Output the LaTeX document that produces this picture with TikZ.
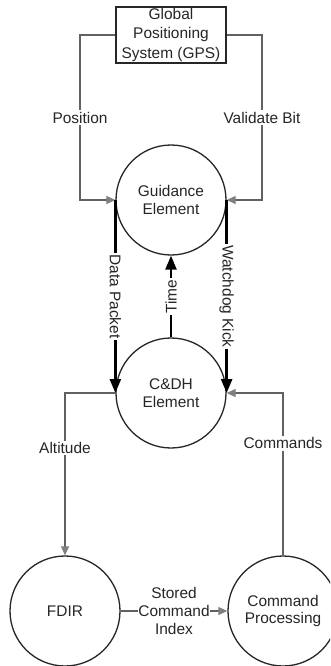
\documentclass[tikz,border=0pt]{standalone}
\usepackage{fontspec}
\setmainfont{Liberation Sans}
\usetikzlibrary{arrows.meta}
\begin{document}
\begin{tikzpicture}[x=1bp,y=-1bp,
  every node/.style={font=\fontsize{15.5}{18}\selectfont, text=black!85},
  proc/.style={circle, draw=black!85, line width=1.3bp, minimum size=110bp,
    inner sep=0pt, align=center},
  store/.style={rectangle, draw=black!85, line width=1.4bp, minimum width=110bp,
    minimum height=56bp, inner sep=0pt, align=center,
    font=\fontsize{15.5}{19.5}\selectfont},
  flow/.style={draw=black!62, line width=1.1bp,
    -{Triangle[length=9bp,width=8bp,color=black!50]}},
  bigflow/.style={draw=black, line width=2.4bp,
    -{Triangle[length=14bp,width=11bp]}},
  lbl/.style={fill=white, inner sep=1.5bp}]
  \clip (0,0) rectangle (330,666);
  \fill[white] (0,0) rectangle (330,666);

  % processes and the external source
  \node[store] (gps) at (171,35) {Global\\Positioning\\System (GPS)};
  \node[proc] (guid) at (171,200) {Guidance\\Element};
  \node[proc] (cdh)  at (171,393) {C\&DH\\Element};
  \node[proc] (fdir) at (65,611)  {FDIR};
  \node[proc] (cp)   at (283,611) {Command\\Processing};

  % bend points of the thin connectors
  \coordinate (gl) at (80,35);
  \coordinate (gr) at (262,35);
  \coordinate (cl) at (65,393);
  \coordinate (cr) at (283,393);

  % GPS inputs to guidance
  \draw[flow] (gps.west) -- (gl) -- node[lbl]{Position} (gl |- guid.west) -- (guid.west);
  \draw[flow] (gps.east) -- (gr) -- node[lbl]{Validate Bit} (gr |- guid.east) -- (guid.east);

  % guidance <-> C&DH exchange
  \draw[bigflow] (guid.west) -- node[lbl, rotate=-90]{Data Packet} (cdh.west);
  \draw[bigflow] (guid.east) -- node[lbl, rotate=-90]{Watchdog Kick} (cdh.east);
  \draw[bigflow] (cdh.north) -- node[lbl, rotate=90]{Time} (guid.south);

  % C&DH to FDIR, and commands back to C&DH
  \draw[flow] (cdh.west) -- (cl) -- node[lbl, pos=0.34]{Altitude} (fdir.north);
  \draw[flow] (cp.north) -- node[lbl, pos=0.69]{Commands} (cr) -- (cdh.east);

  % FDIR to command processing
  \draw[flow] (fdir.east) -- node[lbl, inner sep=0.5bp, align=center]{Stored\\Command\\Index} (cp.west);
\end{tikzpicture}
\end{document}
